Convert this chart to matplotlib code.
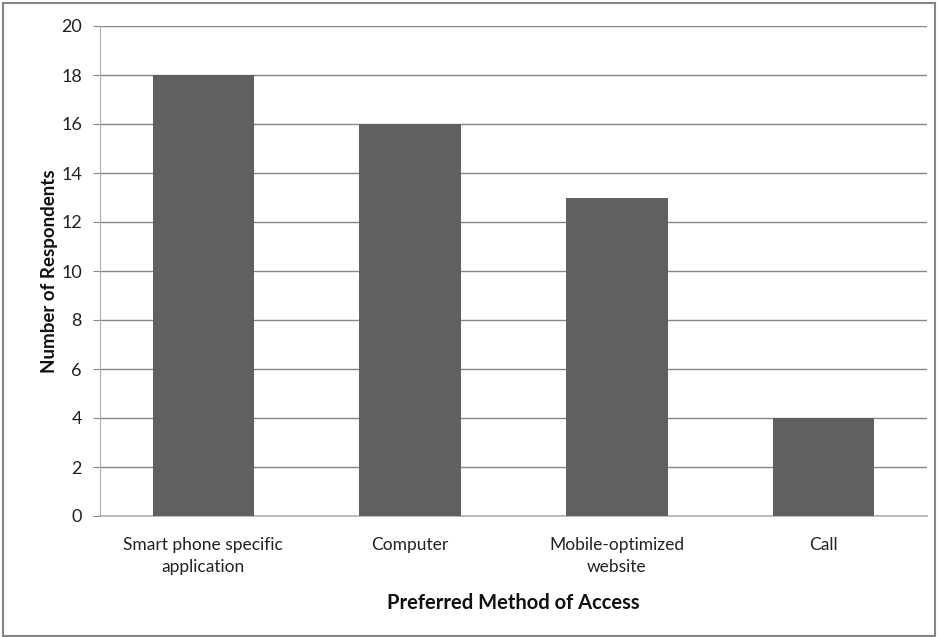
import matplotlib
matplotlib.use("Agg")
import matplotlib.pyplot as plt
from matplotlib.patches import Rectangle

categories = ["Smart phone specific\napplication", "Computer", "Mobile-optimized\nwebsite", "Call"]
respondents = [18, 16, 13, 4]
y_ticks = [0, 2, 4, 6, 8, 10, 12, 14, 16, 18, 20]

plt.rcParams["font.family"] = ["Lato", "DejaVu Sans"]

W, H = 939, 637
fig = plt.figure(figsize=(W / 100, H / 100), dpi=100)
ax = fig.add_axes([100 / W, (H - 516) / H, (927 - 100) / W, (516 - 26) / H])

# outer chart frame
fig.patches.append(Rectangle((3 / W, 1 / H), (935 - 3) / W, (634 - 1) / H,
                             transform=fig.transFigure, fill=False,
                             edgecolor="#858585", linewidth=1.5))

x = range(len(categories))
ax.bar(x, respondents, width=0.49, color="#606060", zorder=3)

ax.set_xlim(-0.5, len(categories) - 0.5)
ax.set_ylim(0, 20)
ax.set_yticks(y_ticks)
ax.set_xticks(list(x))
ax.set_xticklabels(categories, fontsize=12.5, color="#222222", linespacing=1.45)
ax.tick_params(axis="x", length=0, pad=15)
ax.tick_params(axis="y", length=5, color="#868686", labelsize=13,
               labelcolor="#222222", pad=8)

ax.yaxis.grid(True, color="#868686", linewidth=1.0, zorder=0)
for s in ["top", "right"]:
    ax.spines[s].set_visible(False)
ax.spines["left"].set_color("#b0b0b0")
ax.spines["bottom"].set_color("#b0b0b0")
ax.spines["bottom"].set_linewidth(1.2)

ax.set_xlabel("Preferred Method of Access", fontsize=14.5, fontweight="bold",
              color="#111111", labelpad=13)
ax.set_ylabel("Number of Respondents", fontsize=13.5, fontweight="bold",
              color="#111111", labelpad=2)

fig.savefig("out.png", dpi=100)
